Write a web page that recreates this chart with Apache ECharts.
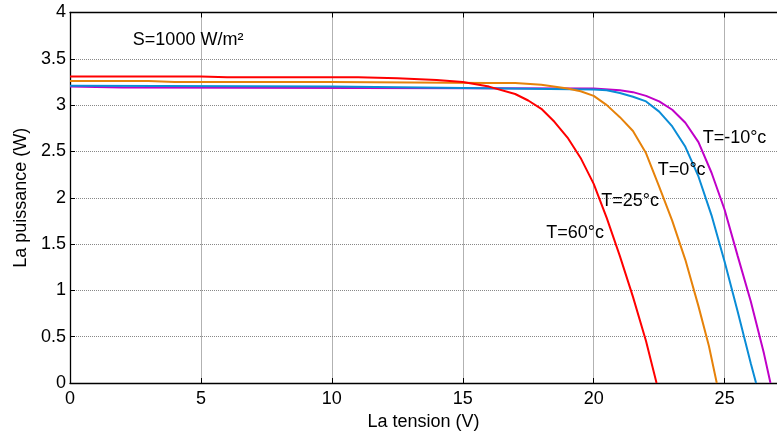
<!DOCTYPE html>
<html>
<head>
<meta charset="utf-8">
<script src="https://cdn.jsdelivr.net/npm/echarts@6/dist/echarts.min.js"></script>
<style>html,body{margin:0;padding:0;background:#fff;}#c{width:777px;height:435px;}</style>
</head>
<body>
<div id="c"></div>
<script>
// Data
const xTicks = [0, 5, 10, 15, 20, 25];
const yTicks = [0, 0.5, 1, 1.5, 2, 2.5, 3, 3.5, 4];

const vM10 = [0, 2, 20, 21, 21.5, 22, 22.5, 23, 23.5, 24, 24.5, 25, 25.5, 26, 26.5, 26.75];
const pM10 = [3.20, 3.19, 3.18, 3.16, 3.14, 3.10, 3.04, 2.95, 2.81, 2.60, 2.27, 1.87, 1.37, 0.88, 0.32, 0];

const v0 = [0, 10, 20, 20.5, 21, 21.5, 22, 22.5, 23, 23.5, 24, 24.5, 25, 25.5, 26, 26.2];
const p0 = [3.21, 3.20, 3.17, 3.16, 3.13, 3.09, 3.04, 2.93, 2.77, 2.55, 2.23, 1.81, 1.31, 0.77, 0.21, 0];

const v25 = [0, 3, 4, 10, 16, 17, 18, 19, 19.5, 20, 20.5, 21, 21.5, 22, 22.5, 23, 23.5, 24, 24.4, 24.7];
const p25 = [3.26, 3.26, 3.25, 3.25, 3.24, 3.24, 3.22, 3.18, 3.15, 3.10, 3.00, 2.87, 2.72, 2.48, 2.12, 1.75, 1.33, 0.83, 0.40, 0];

const v60 = [0, 5, 6, 11, 12.5, 14, 15, 16, 17, 17.5, 18, 18.5, 19, 19.5, 20, 20.5, 21, 21.5, 22, 22.4];
const p60 = [3.31, 3.31, 3.30, 3.30, 3.29, 3.27, 3.25, 3.20, 3.12, 3.05, 2.96, 2.82, 2.65, 2.43, 2.15, 1.78, 1.37, 0.93, 0.45, 0];

const seriesNames = ['T=-10°c', 'T=0°c', 'T=25°c', 'T=60°c'];
const seriesColors = ['#c000c8', '#0a8cd6', '#e6820a', '#ff0000'];
const seriesX = [vM10, v0, v25, v60];
const seriesY = [pM10, p0, p25, p60];

// annotations [text, x, y] in data coordinates
const annotations = [
  ['S=1000 W/m²', 2.4, 3.70],
  ['T=-10°c', 24.16, 2.65],
  ['T=0°c', 22.45, 2.30],
  ['T=25°c', 20.29, 1.96],
  ['T=60°c', 18.19, 1.62]
];

const FONT = 'Liberation Sans, Arial, sans-serif';
const FS = 18;
const chart = echarts.init(document.getElementById('c'), null, {renderer: 'canvas'});

const zip = (xs, ys) => xs.map((x, i) => [x, ys[i]]);

const option = {
  animation: false,
  backgroundColor: '#fff',
  grid: {left: 70, top: 12.5, right: 0, bottom: 52, show: false, containLabel: false, outerBoundsMode: 'none'},
  xAxis: [{
    type: 'value', min: 0, max: 27, interval: 5, position: 'bottom',
    name: 'La tension (V)', nameLocation: 'middle', nameGap: 28,
    nameTextStyle: {fontFamily: FONT, fontSize: FS, color: '#000'},
    axisLine: {show: true, onZero: false, lineStyle: {color: '#000', width: 1.3}},
    axisTick: {show: true, inside: true, length: 5, lineStyle: {color: '#000'}, customValues: xTicks},
    axisLabel: {fontFamily: FONT, fontSize: FS, color: '#000', margin: 7, customValues: xTicks},
    splitLine: {show: true, lineStyle: {color: '#666', type: 'dotted', width: 1}}
  }, {
    type: 'value', min: 0, max: 27, interval: 5, position: 'top',
    axisLine: {show: true, onZero: false, lineStyle: {color: '#000', width: 1.3}},
    axisTick: {show: true, inside: true, length: 5, lineStyle: {color: '#000'}, customValues: xTicks},
    axisLabel: {show: false},
    splitLine: {show: false}
  }],
  yAxis: [{
    type: 'value', min: 0, max: 4, interval: 0.5,
    name: 'La puissance (W)', nameLocation: 'middle', nameGap: 40,
    nameTextStyle: {fontFamily: FONT, fontSize: FS, color: '#000'},
    axisLine: {show: true, onZero: false, lineStyle: {color: '#000', width: 1.3}},
    axisTick: {show: true, inside: true, length: 5, lineStyle: {color: '#000'}},
    axisLabel: {fontFamily: FONT, fontSize: FS, color: '#000', margin: 4},
    splitLine: {show: true, lineStyle: {color: '#888', type: 'dotted', width: 1}}
  }],
  series: seriesNames.map((n, i) => ({
    name: n, type: 'line', showSymbol: false, symbol: 'none',
    data: zip(seriesX[i], seriesY[i]),
    lineStyle: {color: seriesColors[i], width: 2},
    itemStyle: {color: seriesColors[i]},
    z: 3 + i
  }))
};
chart.setOption(option);

const graphics = annotations.map(a => {
  const p = chart.convertToPixel({gridIndex: 0}, [a[1], a[2]]);
  return {
    type: 'text', x: p[0], y: p[1], z: 100,
    style: {text: a[0], fontFamily: FONT, fontSize: FS, fill: '#000',
            textAlign: 'left', textVerticalAlign: 'middle', verticalAlign: 'middle'}
  };
});
chart.setOption({graphic: graphics});
</script>
</body>
</html>
